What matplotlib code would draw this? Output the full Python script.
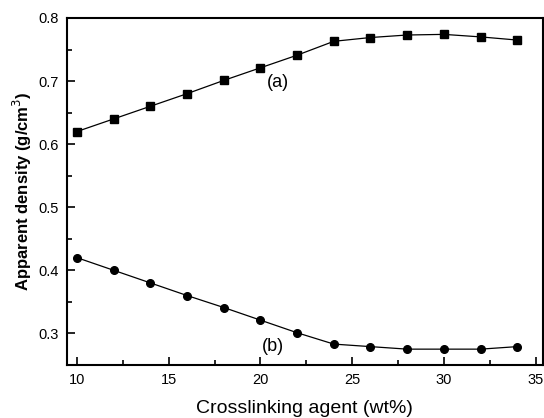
import matplotlib
matplotlib.use("Agg")
import matplotlib.pyplot as plt
from matplotlib.ticker import MultipleLocator

plt.rcParams["font.family"] = ["Liberation Sans", "DejaVu Sans"]

agente = [10, 12, 14, 16, 18, 20, 22, 24, 26, 28, 30, 32, 34]
densidade_a = [0.620, 0.640, 0.660, 0.680, 0.701, 0.721, 0.741, 0.763, 0.769, 0.773, 0.774, 0.770, 0.765]
densidade_b = [0.420, 0.400, 0.380, 0.360, 0.341, 0.321, 0.301, 0.283, 0.279, 0.275, 0.275, 0.275, 0.279]

fig = plt.figure(figsize=(5.44, 4.18), dpi=100)
ax = fig.add_axes([0.123, 0.127, 0.875, 0.83])

ax.plot(agente, densidade_a, color="black", lw=0.9, marker="s", ms=5.5)
ax.plot(agente, densidade_b, color="black", lw=0.9, marker="o", ms=5.5)

ax.text(20.95, 0.698, "(a)", fontsize=13, ha="center", va="center")
ax.text(20.7, 0.279, "(b)", fontsize=13, ha="center", va="center")

ax.set_xlim(9.45, 35.4)
ax.set_ylim(0.25, 0.8)
ax.xaxis.set_major_locator(MultipleLocator(5))
ax.xaxis.set_minor_locator(MultipleLocator(2.5))
ax.yaxis.set_major_locator(MultipleLocator(0.1))
ax.yaxis.set_minor_locator(MultipleLocator(0.05))
ax.tick_params(which="both", direction="in", width=1.2, labelsize=10.5)
ax.tick_params(which="major", length=6, pad=6)
ax.tick_params(which="minor", length=3.5)
for s in ax.spines.values():
    s.set_linewidth(1.5)

ax.set_xlabel("Crosslinking agent (wt%)", fontsize=14, labelpad=9)
ax.set_ylabel("Apparent density (g/cm$^3$)", fontsize=12, fontweight="bold", labelpad=3)

fig.savefig("out.png", dpi=100)
